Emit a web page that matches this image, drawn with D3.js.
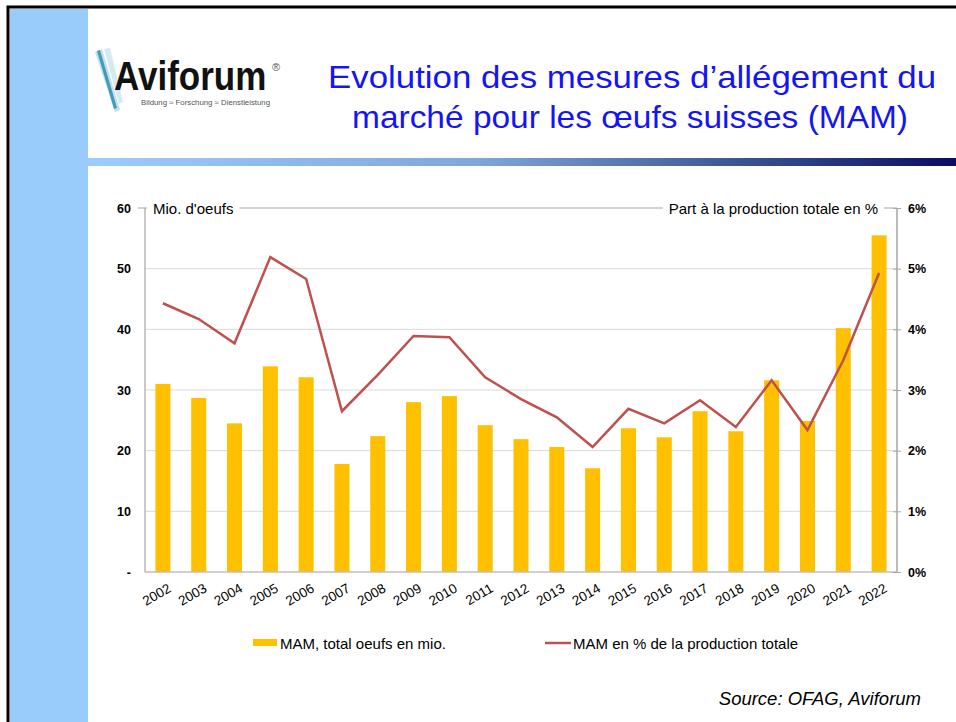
<!DOCTYPE html>
<html>
<head>
<meta charset="utf-8">
<script src="https://cdn.jsdelivr.net/npm/d3@7"></script>
<style>
  body { margin: 0; background: #fff; }
  text { font-family: "Liberation Sans", Arial, sans-serif; }
</style>
</head>
<body>
<div id="chart"></div>
<script>
const years = ["2002","2003","2004","2005","2006","2007","2008","2009","2010","2011","2012",
               "2013","2014","2015","2016","2017","2018","2019","2020","2021","2022"];
const oeufs = [31.0, 28.7, 24.5, 33.9, 32.1, 17.8, 22.4, 28.0, 29.0, 24.2, 21.9,
               20.6, 17.1, 23.7, 22.2, 26.5, 23.2, 31.6, 24.9, 40.2, 55.5];
const part = [4.43, 4.17, 3.77, 5.19, 4.83, 2.65, 3.25, 3.89, 3.87, 3.21, 2.85,
              2.55, 2.06, 2.69, 2.45, 2.83, 2.39, 3.16, 2.34, 3.49, 4.93];
const leftTicks = [0, 10, 20, 30, 40, 50, 60];
const rightTicks = [0, 1, 2, 3, 4, 5, 6];

const width = 956, height = 722;
const svg = d3.select("#chart").append("svg")
  .attr("width", width).attr("height", height);

const defs = svg.append("defs");
const grad = defs.append("linearGradient").attr("id", "band");
grad.append("stop").attr("offset", "0%").attr("stop-color", "#9ccdfc");
grad.append("stop").attr("offset", "45%").attr("stop-color", "#7fa6d8");
grad.append("stop").attr("offset", "75%").attr("stop-color", "#3a5590");
grad.append("stop").attr("offset", "100%").attr("stop-color", "#0b0c62");

// slide frame
svg.append("rect").attr("x", 8).attr("y", 7).attr("width", width).attr("height", height)
  .attr("fill", "none").attr("stroke", "#000").attr("stroke-width", 3);
svg.append("rect").attr("x", 10).attr("y", 9).attr("width", 78).attr("height", height)
  .attr("fill", "#99cbfb");
svg.append("rect").attr("x", 88).attr("y", 158).attr("width", width - 88).attr("height", 8)
  .attr("fill", "url(#band)");

// logo
const logo = svg.append("g");
logo.append("path").attr("d", "M95,52 L102,49 L120,110 L115,112 Z").attr("fill", "#bfe0ef");
logo.append("path").attr("d", "M97,51 L100,50 L117,108 L114,109 Z").attr("fill", "#2a8fb0").attr("opacity", 0.85);
logo.append("path").attr("d", "M104,49 L110,48 L123,102 L119,104 Z").attr("fill", "#d5e9f3");
logo.append("text").attr("transform", "translate(114,90) scale(1,1.17)")
  .attr("font-size", 35).attr("font-weight", "bold").attr("fill", "#111")
  .text("Aviforum");
logo.append("text").attr("x", 272).attr("y", 71).attr("font-size", 11).attr("fill", "#555").text("®");
logo.append("text").attr("x", 141).attr("y", 105).attr("font-size", 7).attr("fill", "#555")
  .attr("textLength", 129).attr("lengthAdjust", "spacingAndGlyphs")
  .text("Bildung ≈ Forschung ≈ Dienstleistung");

// title
const title = svg.append("text").attr("text-anchor", "middle").attr("fill", "#1414f5")
  .attr("font-size", 32);
title.append("tspan").attr("x", 632).attr("y", 88).attr("textLength", 608)
  .attr("lengthAdjust", "spacingAndGlyphs").text("Evolution des mesures d’allégement du");
title.append("tspan").attr("x", 630).attr("y", 128).attr("textLength", 556)
  .attr("lengthAdjust", "spacingAndGlyphs").text("marché pour les œufs suisses (MAM)");

// chart
const pLeft = 145, pRight = 897, pTop = 208, pBottom = 572;
const x = d3.scaleBand().domain(years).range([pLeft, pRight]).paddingInner(0.58).paddingOuter(0.29);
const y = d3.scaleLinear().domain([0, 60]).range([pBottom, pTop]);
const y2 = d3.scaleLinear().domain([0, 6]).range([pBottom, pTop]);

// gridlines
svg.append("g").selectAll("line").data(leftTicks.filter(d => d > 0 && d < 60)).join("line")
  .attr("x1", pLeft).attr("x2", pRight).attr("y1", d => y(d)).attr("y2", d => y(d))
  .attr("stroke", "#d9d9d9");

// bars
svg.append("g").selectAll("rect").data(years).join("rect")
  .attr("x", d => x(d)).attr("width", x.bandwidth())
  .attr("y", (d, i) => y(oeufs[i])).attr("height", (d, i) => y(0) - y(oeufs[i]))
  .attr("fill", "#ffc000");

// line
const line = d3.line().x((d, i) => x(years[i]) + x.bandwidth() / 2).y(d => y2(d));
svg.append("path").datum(part).attr("d", line)
  .attr("fill", "none").attr("stroke", "#c0504d").attr("stroke-width", 2.5);

// frame lines
svg.append("line").attr("x1", pLeft).attr("x2", pLeft).attr("y1", pTop).attr("y2", pBottom)
  .attr("stroke", "#a6a6a6").attr("stroke-width", 1.2);
svg.append("line").attr("x1", pRight).attr("x2", pRight).attr("y1", pTop).attr("y2", pBottom)
  .attr("stroke", "#a6a6a6").attr("stroke-width", 1.5);
svg.append("line").attr("x1", pLeft).attr("x2", pRight).attr("y1", pTop).attr("y2", pTop)
  .attr("stroke", "#a6a6a6").attr("stroke-width", 1.2);
svg.append("line").attr("x1", pLeft).attr("x2", pRight).attr("y1", pBottom).attr("y2", pBottom)
  .attr("stroke", "#bfbfbf").attr("stroke-width", 1.5);

// left axis
const yAxis = d3.axisLeft(y).tickValues(leftTicks).tickSize(0).tickPadding(14)
  .tickFormat(d => d === 0 ? "-" : d);
svg.append("g").attr("transform", `translate(${pLeft},0)`).call(yAxis)
  .call(g => g.select(".domain").remove())
  .call(g => g.selectAll("text").attr("font-size", 12.5).attr("font-weight", "bold")
    .attr("fill", "#000").style("font-family", "Liberation Sans, Arial, sans-serif"));
svg.append("line").attr("x1", pLeft - 7).attr("x2", pLeft).attr("y1", pTop).attr("y2", pTop)
  .attr("stroke", "#a6a6a6");

// right axis
const yAxis2 = d3.axisRight(y2).tickValues(rightTicks).tickSizeInner(4).tickSizeOuter(0).tickPadding(7)
  .tickFormat(d => d + "%");
svg.append("g").attr("transform", `translate(${pRight},0)`).call(yAxis2)
  .call(g => g.select(".domain").remove())
  .call(g => g.selectAll("line").attr("x1", -4).attr("stroke", "#a6a6a6"))
  .call(g => g.selectAll("text").attr("font-size", 12.5).attr("font-weight", "bold")
    .attr("fill", "#000").style("font-family", "Liberation Sans, Arial, sans-serif"));

// axis titles on top border
const t1 = svg.append("text").attr("x", 153).attr("y", 214).attr("font-size", 15).attr("fill", "#000")
  .text("Mio. d'oeufs");
const t2 = svg.append("text").attr("x", 878).attr("y", 214).attr("font-size", 15).attr("fill", "#000")
  .attr("text-anchor", "end").text("Part à la production totale en %");
[t1, t2].forEach(t => {
  const b = t.node().getBBox();
  svg.insert("rect", () => t.node()).attr("x", b.x - 6).attr("y", pTop - 2)
    .attr("width", b.width + 12).attr("height", 4).attr("fill", "#fff");
});

// x labels
svg.append("g").selectAll("text").data(years).join("text")
  .attr("transform", d => `translate(${x(d) + x.bandwidth() / 2 + 9},${pBottom + 19}) rotate(-30)`)
  .attr("text-anchor", "end").attr("font-size", 13.5).attr("fill", "#000")
  .text(d => d);

// legend
svg.append("rect").attr("x", 253).attr("y", 639).attr("width", 24).attr("height", 7).attr("fill", "#ffc000");
svg.append("text").attr("x", 280).attr("y", 649).attr("font-size", 15).text("MAM, total oeufs en mio.");
svg.append("line").attr("x1", 545).attr("x2", 571).attr("y1", 643).attr("y2", 643)
  .attr("stroke", "#c0504d").attr("stroke-width", 2.5);
svg.append("text").attr("x", 573).attr("y", 649).attr("font-size", 15).text("MAM en % de la production totale");

// source
svg.append("text").attr("x", 921).attr("y", 705).attr("text-anchor", "end")
  .attr("font-size", 18.5).attr("font-style", "italic").text("Source: OFAG, Aviforum");
</script>
</body>
</html>
